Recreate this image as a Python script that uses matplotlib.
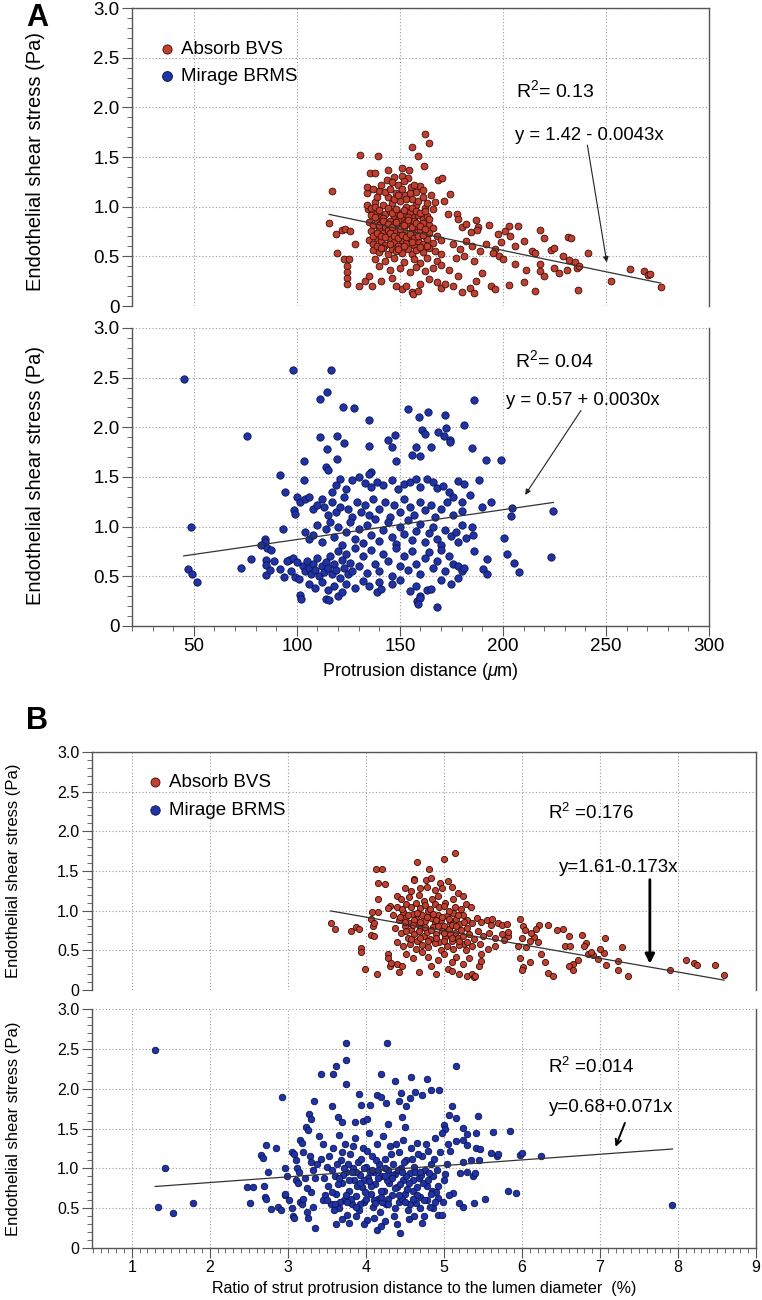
import numpy as np
import matplotlib
matplotlib.use("Agg")
import matplotlib.pyplot as plt
from matplotlib.ticker import MultipleLocator, FuncFormatter

plt.rcParams['font.family'] = ['Liberation Sans', 'DejaVu Sans']
plt.rcParams['mathtext.fontset'] = 'custom'
plt.rcParams['mathtext.rm'] = 'Liberation Sans'
plt.rcParams['mathtext.it'] = 'Liberation Sans:italic'

# ---------------- data ----------------
# panel A: protrusion distance (um) vs ESS (Pa)
absorb_a = [
    (115.7,0.84),(117,1.16),(119,0.73),(122,0.77),(123.5,0.78),(119.7,0.53),(122.9,0.47),(125.4,0.47),
    (124.2,0.40),(124.2,0.34),(124.2,0.28),(124.5,0.22),(130.2,0.20),(130.5,1.52),(126,0.76),(128,0.62),
    (133,0.25),(135,0.30),(136.5,0.20),(139.5,1.51),(135.3,1.34),(137.9,1.34),
    (162.4,1.73),(164.3,1.64),(155.9,1.60),(158.8,1.51),(161.6,1.41),(150.8,1.39),(154.3,1.37),(144.3,1.37),
    (147,1.30),(151,1.31),(154,1.29),(168.5,1.27),(170.4,1.29),(174.5,1.13),(171.6,1.06),(143.6,1.27),
    (146,1.25),(149,1.22),(152,1.26),(155.5,1.20),(158,1.15),(160,1.21),(161,1.17),(134,1.14),(140,1.16),
    (144,1.10),(148,1.14),(152.5,1.12),(156,1.08),(165,1.12),(167,1.05),(138,1.05),(142,1.02),(146,1.04),
    (150,1.06),(153,1.00),(158,1.02),(162,0.99),(166,0.98),(134.5,0.98),
    (136,0.92),(139,0.95),(141,0.90),(143,0.93),(145,0.96),(147,0.91),(149,0.94),(151,0.89),(153,0.93),
    (155,0.95),(157,0.90),(159,0.92),(161,0.88),(163,0.91),
    (135,0.85),(137,0.82),(139,0.86),(141,0.84),(143,0.80),(145,0.86),(147,0.83),(149,0.87),(151,0.81),
    (153,0.85),(155,0.83),(157,0.86),(159,0.80),(161,0.84),(164,0.82),(166,0.79),
    (136,0.76),(138,0.72),(140,0.78),(142,0.74),(144,0.77),(146,0.72),(148,0.76),(150,0.73),(152,0.78),
    (154,0.71),(156,0.75),(158,0.72),(160,0.77),(162,0.70),(164,0.74),(168,0.71),
    (135,0.66),(137,0.62),(139,0.68),(141,0.65),(143,0.61),(145,0.67),(147,0.64),(149,0.60),(151,0.66),
    (153,0.63),(155,0.68),(157,0.61),(159,0.65),(161,0.62),(163,0.67),(166,0.63),(170,0.66),
    (137,0.56),(140,0.54),(142,0.58),(144,0.52),(146,0.57),(148,0.55),(151,0.53),(154,0.57),(156,0.52),
    (158,0.56),(161,0.54),(164,0.58),(167,0.55),(170,0.52),
    (138,0.47),(143,0.45),(147,0.48),(152,0.44),(157,0.47),(160,0.43),(163,0.48),(168,0.45),
    (140,0.40),(145,0.36),(150,0.38),(155,0.34),(158,0.39),(162,0.35),(166,0.38),(170,0.41),(174,0.36),
    (141,0.25),(146,0.28),(148,0.20),(151,0.17),(153,0.20),(156,0.14),(156.5,0.12),(159,0.15),(160,0.22),
    (164,0.27),(168,0.24),(170,0.18),(172,0.22),(176,0.20),(178,0.30),(184,0.18),(187,0.25),(190,0.33),
    (173.6,0.93),(177.6,0.93),(178.1,0.88),(180,0.80),(182,0.83),(184.5,0.75),(187,0.87),(188,0.80),
    (187.5,0.77),(193.4,0.82),(197.4,0.73),(202.9,0.81),(207.4,0.81),(201,0.76),(203.5,0.71),(217.9,0.77),
    (220,0.68),(231.6,0.69),(233.2,0.68),(241.2,0.53),(223.5,0.56),(224.8,0.58),(213.9,0.55),(215.5,0.53),
    (229,0.50),(232,0.46),(235,0.44),
    (176,0.62),(179,0.57),(182,0.65),(185,0.60),(189,0.55),(192,0.62),(196,0.57),(199,0.64),(206,0.60),(210,0.65),
    (177,0.48),(181,0.50),(186,0.45),(195,0.53),(198,0.50),(200,0.47),(206,0.42),(211,0.36),(218,0.35),
    (218,0.42),(220,0.30),(225,0.38),(227,0.33),(231,0.36),(236,0.38),(237,0.40),
    (194,0.20),(196,0.17),(203,0.21),(210,0.24),(215.5,0.15),(236.4,0.16),(252.5,0.25),(261.8,0.37),
    (268.3,0.35),(270.5,0.31),(271.5,0.32),(276.6,0.19),(180,0.14),(186,0.13),
    (134,1.20),(137,1.18),(139,1.10),(141,1.22),(143,1.15),(145,1.18),(147,1.08),(149,1.12),(151,1.18),
    (153,1.08),(155,1.14),(157,1.22),(159,1.06),(161,1.10),(163,1.04),
    (134,1.02),(136,0.99),(138,1.00),(140,0.97),(142,0.89),(144,0.99),(146,0.94),(148,0.98),(150,0.92),
    (152,0.97),(154,0.90),(156,0.99),(158,0.96),(160,0.94),(162,0.96),(164,0.88),
    (138,0.90),(140,0.82),(142,0.86),(144,0.83),(146,0.80),(148,0.85),(150,0.78),(152,0.82),(154,0.87),
    (156,0.80),(158,0.84),(160,0.81),(162,0.78),
    (137,0.70),(139,0.74),(141,0.71),(143,0.69),(145,0.74),(147,0.70),(149,0.68),(151,0.72),(153,0.69),
    (155,0.73),(157,0.68),(159,0.70),(161,0.72),(163,0.60),
    (139,0.60),(141,0.58),(145,0.62),(149,0.57),(152,0.60),(156,0.64),(160,0.59),
]

mirage_a = [
    (45.1,2.49),(48.5,1.00),(47.3,0.57),(48.9,0.52),(51.6,0.44),(76,1.91),(72.8,0.58),(77.7,0.67),
    (84.4,0.88),(84.7,0.85),(82.4,0.82),(85.5,0.78),(87.5,0.76),(85,0.66),(85,0.61),(85,0.51),(89.1,0.65),
    (87,0.56),(92,0.57),(94,0.49),(92,1.52),(94.1,1.35),(93.3,0.98),(97.9,2.58),(98.4,1.17),(99,1.13),
    (100,1.30),(101.5,1.25),(103.7,1.66),(103.4,1.47),
    (96,0.66),(98,0.68),(100,0.64),(99,0.49),(101,0.47),(101.5,0.31),(102,0.27),(97,0.55),(95,0.65),
    (116.4,2.58),(114.8,2.36),(111.1,2.29),(122.5,2.20),(127.8,2.19),(135.1,2.07),(135.1,1.81),(111.3,1.90),
    (114.8,1.78),(119.7,1.91),(123,1.84),(119.5,1.68),(114,1.60),(115,1.57),(144.3,1.87),(147.6,1.92),
    (146.3,1.80),(154,2.18),(159.1,2.10),(163.6,2.15),(172,2.12),(172.5,1.99),(180.9,2.02),(168.5,1.95),
    (171.2,1.91),(174.1,1.87),(174.4,1.85),(186,2.28),(185.2,1.79),(191.6,1.67),(199.2,1.67),(188.6,1.47),
    (160.8,1.97),(162.1,1.93),(158,1.80),(165,1.80),(156,1.72),(160,1.71),(148,1.66),(136,1.55),(135,1.53),
    (104,1.28),(106,1.30),(112,1.28),(117,1.35),(119,1.42),(121,1.48),(124,1.38),(127,1.47),(130,1.50),
    (133,1.44),(136,1.40),(139,1.45),(142,1.42),(146,1.47),(149,1.38),(152,1.43),(155,1.45),(158,1.48),
    (160,1.40),(163,1.48),(166,1.45),(168,1.39),(171,1.41),(174,1.35),(178,1.46),(181,1.43),(176,1.30),
    (180,1.25),(184,1.32),
    (108,1.18),(110,1.22),(113,1.20),(115,1.12),(117,1.25),(119,1.15),(121,1.20),(123,1.30),(125,1.18),
    (127,1.10),(129,1.25),(131,1.15),(133,1.22),(135,1.12),(137,1.28),(140,1.18),(143,1.25),(145,1.10),
    (147,1.22),(150,1.15),(152,1.28),(155,1.20),(157,1.12),(160,1.25),(162,1.17),(165,1.22),(167,1.10),
    (170,1.18),(173,1.25),(176,1.12),(180,1.16),(194.2,1.25),(189.9,1.20),(204.5,1.19),(203.7,1.11),(224.5,1.16),
    (104,0.95),(106,0.88),(108,0.92),(110,1.02),(112,0.85),(114,0.98),(116,1.05),(118,0.90),(120,1.00),
    (122,0.82),(124,0.95),(126,1.05),(128,0.88),(130,0.98),(132,0.84),(134,1.02),(136,0.92),(138,1.08),
    (140,0.86),(142,0.97),(144,1.05),(146,0.90),(148,0.83),(150,1.00),(152,0.93),(154,1.07),(156,0.87),
    (158,0.96),(160,1.03),(162,0.85),(164,0.94),(166,1.00),(168,0.88),(170,0.82),(172,0.97),(175,0.91),
    (178,0.85),(180,1.02),(185,1.00),(185.5,0.92),(182,0.89),(200.3,0.89),(177,0.95),
    (103,0.60),(104,0.55),(105,0.65),(106,0.58),(107,0.52),(108,0.62),(109,0.56),(110,0.68),(111,0.50),
    (112,0.60),(113,0.54),(114,0.64),(115,0.58),(116,0.70),(117,0.52),(118,0.62),(119,0.56),(120,0.75),
    (121,0.48),(122,0.66),(123,0.58),(124,0.72),(125,0.52),(126,0.63),(127,0.55),(128,0.78),(130,0.60),
    (132,0.70),(134,0.53),(136,0.76),(138,0.62),(140,0.55),(142,0.72),(144,0.65),(146,0.50),(148,0.78),
    (150,0.60),(152,0.70),(154,0.56),(156,0.75),(158,0.62),(160,0.52),(162,0.68),(164,0.74),(166,0.58),
    (168,0.65),(170,0.76),(172,0.55),(174,0.70),(176,0.62),(178,0.60),(180,0.55),(181,0.58),(192.3,0.67),
    (190.2,0.57),(192.1,0.52),(202,0.72),(205.5,0.63),(207.7,0.54),(223.5,0.69),(186,0.75),
    (106,0.42),(109,0.38),(112,0.44),(115,0.36),(118,0.40),(120,0.30),(122,0.34),(124,0.42),(128,0.38),
    (132,0.45),(135,0.40),(140,0.44),(146,0.42),(150,0.46),(155,0.35),(158,0.40),(160,0.30),(158.5,0.25),
    (160,0.28),(163,0.36),(165,0.37),(168,0.19),(158.8,0.22),(114.1,0.27),(115.7,0.26),(139,0.34),
    (141,0.37),(170,0.46),(175,0.42),(178,0.48),
]

# panel B: ratio of strut protrusion distance to lumen diameter (%) vs ESS (Pa)
absorb_b = [
    (3.55,0.85),(3.61,0.77),(3.81,0.74),(3.88,0.79),(3.91,0.77),(3.94,0.53),(3.94,0.48),(3.99,0.26),
    (4.06,0.89),(4.09,0.80),(4.07,0.69),(4.10,0.68),(4.13,1.52),(4.21,1.53),(4.14,0.20),(4.15,1.35),
    (4.24,1.34),(4.15,1.15),(4.31,1.06),(4.29,1.03),(4.08,0.98),(4.16,0.98),(4.10,0.85),
    (5.14,1.73),(5.0,1.65),(4.65,1.61),(4.81,1.52),(4.62,1.40),(4.62,1.38),(4.77,1.38),(4.84,1.41),
    (4.95,1.35),(5.05,1.37),(5.1,1.30),(4.5,1.28),(4.58,1.25),(4.7,1.28),(4.78,1.30),(4.88,1.26),
    (4.98,1.29),(5.18,1.22),(5.25,1.18),(4.40,1.18),(4.45,1.15),(4.55,1.17),(4.68,1.20),(4.74,1.12),
    (4.85,1.15),(4.92,1.18),(5.02,1.10),(5.12,1.14),(5.28,1.08),(5.35,1.05),(5.22,1.02),
    (4.35,0.95),(4.42,0.88),(4.48,0.98),(4.52,0.92),(4.56,0.85),(4.60,0.96),(4.64,0.90),(4.68,0.82),
    (4.72,0.94),(4.76,0.87),(4.80,0.99),(4.84,0.91),(4.88,0.84),(4.92,0.95),(4.96,0.88),(5.00,0.80),
    (5.04,0.93),(5.08,0.86),(5.12,0.97),(5.16,0.89),(5.20,0.83),(5.24,0.94),(5.30,0.88),(5.36,0.84),
    (5.42,0.91),(5.48,0.86),(5.55,0.88),(5.60,0.82),(5.70,0.85),(5.62,0.90),
    (4.38,0.78),(4.45,0.72),(4.50,0.80),(4.54,0.66),(4.58,0.76),(4.62,0.70),(4.66,0.62),(4.70,0.77),
    (4.74,0.68),(4.78,0.73),(4.82,0.64),(4.86,0.79),(4.90,0.70),(4.94,0.60),(4.98,0.74),(5.02,0.67),
    (5.06,0.77),(5.10,0.62),(5.14,0.72),(5.18,0.66),(5.22,0.76),(5.26,0.58),(5.32,0.70),(5.38,0.64),
    (5.44,0.74),(5.50,0.68),(5.58,0.72),(5.66,0.66),(5.74,0.70),(5.82,0.68),
    (4.40,0.60),(4.48,0.55),(4.56,0.58),(4.64,0.52),(4.72,0.57),(4.80,0.54),(4.88,0.59),(4.96,0.50),
    (5.04,0.56),(5.12,0.52),(5.20,0.57),(5.28,0.50),(5.36,0.55),(5.46,0.58),(5.56,0.52),(5.65,0.56),
    (4.28,0.45),(4.28,0.40),(4.31,0.30),(4.32,0.34),(4.40,0.33),(4.46,0.30),(4.43,0.22),(4.52,0.45),
    (4.60,0.40),(4.68,0.22),(4.72,0.48),(4.80,0.42),(4.84,0.30),(4.90,0.20),(4.92,0.38),(5.00,0.45),
    (5.05,0.26),(5.10,0.35),(5.15,0.42),(5.10,0.24),(5.20,0.20),(5.25,0.33),(5.30,0.18),(5.32,0.40),
    (5.36,0.20),(5.38,0.16),(5.40,0.18),(5.45,0.30),(5.48,0.36),(5.48,0.45),
    (5.98,0.90),(6.01,0.81),(6.04,0.75),(6.00,0.66),(6.05,0.54),(6.15,0.67),(6.22,0.82),(6.18,0.77),
    (6.12,0.72),(6.10,0.62),(6.33,0.82),(6.53,0.77),(5.75,0.82),(5.81,0.83),(5.82,0.73),(5.77,0.63),
    (5.95,0.55),(5.97,0.40),(6.02,0.29),(6.0,0.25),(6.10,0.35),(6.20,0.60),(6.25,0.45),(6.29,0.35),
    (6.34,0.21),(6.40,0.18),(6.45,0.75),(6.55,0.56),(6.62,0.55),(6.60,0.68),(6.77,0.69),(6.82,0.59),
    (6.80,0.55),(6.85,0.45),(6.72,0.38),(6.65,0.33),(6.60,0.30),(6.66,0.25),(6.91,0.44),(6.89,0.48),
    (6.97,0.39),(7.05,0.46),(7.0,0.52),(7.07,0.65),(7.08,0.31),(7.23,0.37),(7.28,0.54),(7.23,0.25),
    (7.36,0.17),(7.90,0.25),(8.10,0.38),(8.20,0.34),(8.24,0.31),(8.47,0.32),(8.59,0.19),
    (4.40,1.05),(4.46,1.02),(4.52,1.08),(4.58,1.04),(4.64,1.10),(4.70,1.03),(4.76,1.07),(4.82,1.02),
    (4.88,1.08),(4.94,1.04),(5.00,1.06),(5.06,1.00),(5.14,1.04),
    (4.44,0.92),(4.50,0.86),(4.54,0.95),(4.62,0.88),(4.66,0.97),(4.70,0.86),(4.78,0.92),(4.86,0.96),
    (4.90,0.88),(4.98,0.92),(5.06,0.90),(5.10,0.82),(5.18,0.94),(5.26,0.86),
    (4.52,0.74),(4.60,0.82),(4.68,0.74),(4.76,0.79),(4.84,0.75),(4.92,0.80),(5.00,0.72),(5.08,0.70),
    (5.16,0.80),(5.24,0.68),(5.30,0.78),
    (4.58,0.64),(4.70,0.66),(4.80,0.62),(4.90,0.65),(5.00,0.62),(5.10,0.66),(5.20,0.62),(5.30,0.60),
]

mirage_b = [
    (1.30,2.48),(1.42,1.00),(1.34,0.52),(1.53,0.44),(1.79,0.57),(2.48,0.76),(2.56,0.76),(2.52,0.57),
    (2.70,0.78),(2.71,0.64),(2.72,0.61),(2.65,1.17),(2.68,1.13),(2.72,1.29),(2.75,0.96),(2.85,1.26),
    (2.79,0.49),(2.88,0.52),(2.92,1.90),(2.96,0.66),(2.97,0.68),(2.97,1.01),(2.99,0.90),(2.91,0.48),
    (3.02,0.60),(3.05,0.50),(3.07,0.40),(3.08,0.38),
    (3.05,1.20),(3.08,1.18),(3.10,1.10),(3.12,1.00),(3.14,0.95),(3.10,0.85),(3.13,0.82),(3.16,1.35),
    (3.18,1.32),(3.20,1.21),(3.23,1.52),(3.26,1.48),(3.27,1.68),(3.30,1.62),(3.33,1.84),(3.28,1.15),
    (3.30,1.08),(3.32,0.98),(3.15,0.58),(3.18,0.55),(3.20,0.62),(3.24,0.45),(3.26,0.38),(3.30,0.70),
    (3.32,0.52),(3.35,0.25),(3.25,0.75),(3.35,0.88),(3.38,1.05),(3.40,1.40),(3.43,2.19),(3.42,1.12),
    (3.45,0.60),(3.22,0.88),
    (3.58,2.19),(3.62,2.28),(3.74,2.58),(3.74,2.36),(3.74,2.06),(3.57,1.78),(3.94,1.79),(3.96,1.59),
    (3.91,1.93),(4.19,2.18),(4.27,2.58),(4.38,2.10),(4.58,2.15),(4.78,2.12),(4.84,1.99),(4.94,1.99),
    (4.72,1.92),(4.63,1.96),(4.56,1.88),(4.45,1.95),(4.43,1.85),(4.51,1.78),(4.14,1.92),(4.19,1.89),
    (4.26,1.82),(4.05,1.80),(5.16,2.28),(5.07,1.67),(5.15,1.63),(5.11,1.78),(5.44,1.66),(3.64,1.65),
    (3.70,1.58),(3.86,1.58),(4.01,1.62),(4.28,1.56),(4.46,1.64),(4.50,1.52),
    (5.24,1.51),(5.30,1.43),(5.41,1.45),(5.63,1.46),(5.85,1.47),(5.15,1.34),(5.25,1.35),(5.29,1.29),
    (5.41,1.25),(5.46,1.24),(5.60,1.19),(5.68,1.16),(5.25,1.08),(5.35,1.11),(5.45,1.10),(5.21,0.94),
    (5.30,0.95),(5.37,0.91),(5.40,0.94),(5.82,0.72),(5.92,0.69),(5.53,0.62),(5.39,0.56),(5.25,0.52),
    (5.12,0.69),(5.19,0.56),(5.07,0.67),(5.98,1.17),(6.0,1.19),(6.24,1.16),(5.70,1.18),(5.0,1.55),
    (5.02,1.50),(4.98,1.45),(5.05,1.30),(5.08,1.22),(5.04,1.05),(5.02,0.93),(5.0,0.85),(4.93,0.78),
    (4.85,0.72),(4.92,0.63),(4.99,0.58),(4.86,0.50),(4.93,0.42),(4.97,0.42),(4.44,0.19),(4.14,0.22),
    (4.20,0.27),(7.93,0.54),
    (3.45,1.30),(3.50,1.02),(3.52,0.78),(3.55,0.55),(3.48,0.66),(3.58,1.25),(3.60,0.90),(3.62,0.68),
    (3.65,1.42),(3.66,0.50),(3.68,1.10),(3.70,0.82),(3.72,0.60),(3.73,1.30),(3.75,0.95),(3.76,0.42),
    (3.78,0.72),(3.80,1.18),(3.82,0.55),(3.83,1.00),(3.85,0.85),(3.86,1.38),(3.88,0.65),(3.90,1.08),
    (3.91,0.48),(3.93,0.92),(3.95,0.76),(3.96,1.25),(3.98,0.58),(4.00,1.02),(4.01,0.35),(4.03,0.88),
    (4.04,1.45),(4.06,0.68),(4.08,1.15),(4.09,0.52),(4.11,0.96),(4.12,0.80),(4.14,1.30),(4.15,0.62),
    (4.17,1.05),(4.18,0.45),(4.20,0.90),(4.22,1.40),(4.23,0.72),(4.25,1.12),(4.26,0.55),(4.28,0.98),
    (4.30,0.82),(4.31,1.28),(4.33,0.66),(4.35,1.06),(4.36,0.40),(4.38,0.93),(4.40,0.76),(4.42,1.20),
    (4.43,0.58),(4.45,1.00),(4.47,0.86),(4.48,1.36),(4.50,0.68),(4.52,1.10),(4.54,0.48),(4.56,0.94),
    (4.58,1.25),(4.60,0.72),(4.62,1.02),(4.64,0.56),(4.66,1.32),(4.68,0.88),(4.70,0.64),(4.72,1.15),
    (4.74,0.40),(4.76,0.98),(4.78,0.78),(4.80,1.22),(4.82,0.52),(4.84,1.05),(4.86,0.90),(4.88,1.38),
    (4.90,0.70),
    (3.47,0.88),(3.53,1.15),(3.56,0.70),(3.59,0.48),(3.63,1.05),(3.64,0.80),(3.67,0.58),(3.69,1.20),
    (3.71,0.92),(3.74,0.66),(3.77,1.05),(3.79,0.85),(3.81,0.62),(3.84,1.28),(3.87,0.95),(3.89,0.78),
    (3.92,0.55),(3.94,1.12),(3.97,0.86),(3.99,0.70),(4.02,1.22),(4.05,0.95),(4.07,0.78),(4.10,0.60),
    (4.13,1.10),(4.16,0.88),(4.19,0.72),(4.21,0.58),(4.24,1.00),(4.27,0.85),(4.29,0.62),(4.32,1.18),
    (4.34,0.92),(4.37,0.50),(4.39,1.30),(4.41,0.98),(4.44,0.80),(4.46,0.62),(4.49,1.08),(4.51,0.90),
    (4.53,0.74),(4.57,0.55),(4.59,1.12),(4.61,0.85),(4.63,0.95),(4.65,0.66),(4.67,1.18),(4.69,0.50),
    (4.71,0.92),(4.73,0.82),(4.77,1.30),(4.79,0.60),(4.81,0.94),(4.83,0.68),(4.87,1.12),(4.89,0.58),
    (4.91,0.98),(4.95,1.20),
    (3.50,0.60),(3.57,0.98),(3.61,0.55),(3.66,0.88),(3.72,1.00),(3.76,0.58),(3.82,0.95),(3.87,0.52),
    (3.92,0.82),(3.97,1.00),(4.00,0.62),(4.04,0.84),(4.08,0.98),(4.12,0.56),(4.16,0.98),(4.20,0.64),
    (4.24,0.90),(4.28,0.55),(4.33,0.88),(4.37,0.75),(4.42,0.66),(4.46,0.96),(4.50,0.58),(4.55,0.82),
    (4.60,0.62),(4.66,0.76),(4.70,0.95),(4.75,0.60),(4.80,0.86),(3.62,0.30),(3.70,0.36),(3.78,0.32),
    (3.88,0.40),(3.98,0.30),(4.10,0.38),(4.25,0.34),(4.40,0.30),(4.55,0.36),(4.62,0.40),(4.72,0.32),
]

# regression lines (intercept, slope) as printed on the chart
fit_absorb_a = (1.42, -0.0043)
fit_mirage_a = (0.57, 0.0030)
fit_absorb_b = (1.61, -0.173)
fit_mirage_b = (0.68, 0.071)

labels = ["Absorb BVS", "Mirage BRMS"]
red_face, red_edge = "#bf4030", "#3a0c06"
blue_face, blue_edge = "#1f33a6", "#0c1450"

fig = plt.figure(figsize=(7.62, 13.0), dpi=100)
axA1 = fig.add_axes([0.1732, 0.7646, 0.7572, 0.2292])
axA2 = fig.add_axes([0.1732, 0.5185, 0.7572, 0.2292])
axB1 = fig.add_axes([0.1207, 0.2385, 0.8714, 0.1831])
axB2 = fig.add_axes([0.1207, 0.0400, 0.8714, 0.1838])


def yfmt(v, pos):
    return "0" if abs(v) < 1e-9 else "%.1f" % v


def style(ax, xlim, xmajor, xminor, top, fs):
    ax.set_xlim(*xlim)
    ax.set_ylim(0, 3.0)
    ax.xaxis.set_major_locator(MultipleLocator(xmajor))
    ax.xaxis.set_minor_locator(MultipleLocator(xminor))
    ax.yaxis.set_major_locator(MultipleLocator(0.5))
    ax.yaxis.set_minor_locator(MultipleLocator(0.1))
    ax.yaxis.set_major_formatter(FuncFormatter(yfmt))
    ax.grid(True, which="major", linestyle=(0, (1, 2)), color="#9a9a9a", lw=0.8)
    ax.set_axisbelow(True)
    for s in ax.spines.values():
        s.set_color("#555555")
        s.set_linewidth(1.0)
    ax.tick_params(which="both", direction="out", color="#555555", labelsize=fs,
                   right=False, top=False, pad=2)
    ax.tick_params(which="major", length=7)
    ax.tick_params(which="minor", length=3.5)
    if top:
        ax.spines["bottom"].set_visible(False)
        ax.tick_params(axis="x", which="both", bottom=False, labelbottom=False)
    else:
        ax.spines["top"].set_visible(False)


def draw(ax, pts, fit, face, edge, size):
    arr = np.array(pts)
    sc = ax.scatter(arr[:, 0], arr[:, 1], s=size, c=face, edgecolors=edge,
                    linewidths=0.6, zorder=3)
    xs = np.array([arr[:, 0].min(), arr[:, 0].max()])
    ax.plot(xs, fit[0] + fit[1] * xs, color="#333333", lw=0.9, zorder=4)
    return sc


# ---------------- panel A ----------------
style(axA1, (20, 300), 50, 10, True, 13.5)
style(axA2, (20, 300), 50, 10, False, 13.5)
s1 = draw(axA1, absorb_a, fit_absorb_a, red_face, red_edge, 24)
s2 = draw(axA2, mirage_a, fit_mirage_a, blue_face, blue_edge, 28)
for ax, ly in ((axA1, 0.485), (axA2, 0.505)):
    ax.set_ylabel("Endothelial shear stress (Pa)", fontsize=14.5)
    ax.yaxis.set_label_coords(-0.150, ly)
axA2.set_xlabel(r"Protrusion distance ($\mu$m)", fontsize=13, labelpad=4)

axA1.legend([s1, s2], labels, loc="upper left", bbox_to_anchor=(0.045, 0.89),
            frameon=False, fontsize=13.5, handlelength=1.0, handletextpad=0.25,
            labelspacing=0.55, borderpad=0, borderaxespad=0, markerscale=1.35,
            scatterpoints=1)

axA1.text(206.5, 2.17, r"R$^2$= 0.13", fontsize=14, va="center")
axA1.text(206, 1.72, "y = 1.42 - 0.0043x", fontsize=13.3, va="center")
axA1.annotate("", xy=(250.4, 0.44), xytext=(241, 1.62),
              arrowprops=dict(arrowstyle="-|>", lw=0.8, color="#222222",
                              mutation_scale=8, shrinkA=0, shrinkB=0))
axA2.text(206, 2.68, r"R$^2$= 0.04", fontsize=14, va="center")
axA2.text(201.6, 2.27, "y = 0.57 + 0.0030x", fontsize=13.3, va="center")
axA2.annotate("", xy=(210.8, 1.32), xytext=(237.9, 2.17),
              arrowprops=dict(arrowstyle="-|>", lw=0.8, color="#222222",
                              mutation_scale=8, shrinkA=0, shrinkB=0))

fig.text(0.049, 0.986, "A", fontsize=22, fontweight="bold", ha="center", va="center")

# ---------------- panel B ----------------
style(axB1, (0.49, 9), 1, 0.1, True, 11.5)
style(axB2, (0.49, 9), 1, 0.1, False, 11.5)
s3 = draw(axB1, absorb_b, fit_absorb_b, red_face, red_edge, 20)
s4 = draw(axB2, mirage_b, fit_mirage_b, blue_face, blue_edge, 22)
for ax in (axB1, axB2):
    ax.set_ylabel("Endothelial shear stress (Pa)", fontsize=12, labelpad=26)
axB2.set_xlabel("Ratio of strut protrusion distance to the lumen diameter  (%)",
                fontsize=11.5, labelpad=4)

axB1.legend([s3, s4], labels, loc="upper left", bbox_to_anchor=(0.081, 0.907),
            frameon=False, fontsize=13.5, handlelength=1.0, handletextpad=0.25,
            labelspacing=0.55, borderpad=0, borderaxespad=0, markerscale=1.45,
            scatterpoints=1)

axB1.text(6.33, 2.23, r"R$^2$ =0.176", fontsize=13.5, va="center")
axB1.text(6.47, 1.54, "y=1.61-0.173x", fontsize=13.5, va="center")
axB1.annotate("", xy=(7.64, 0.33), xytext=(7.64, 1.39),
              arrowprops=dict(arrowstyle="-|>", lw=2.0, color="black",
                              mutation_scale=14, shrinkA=0, shrinkB=0))
axB2.text(6.33, 2.27, r"R$^2$ =0.014", fontsize=13.5, va="center")
axB2.text(6.35, 1.76, "y=0.68+0.071x", fontsize=13.5, va="center")
axB2.annotate("", xy=(7.2, 1.27), xytext=(7.32, 1.57),
              arrowprops=dict(arrowstyle="->", lw=1.4, color="black",
                              mutation_scale=10, shrinkA=0, shrinkB=0))

fig.text(0.049, 0.4455, "B", fontsize=22, fontweight="bold", ha="center", va="center")

fig.savefig("out.png", dpi=100)
